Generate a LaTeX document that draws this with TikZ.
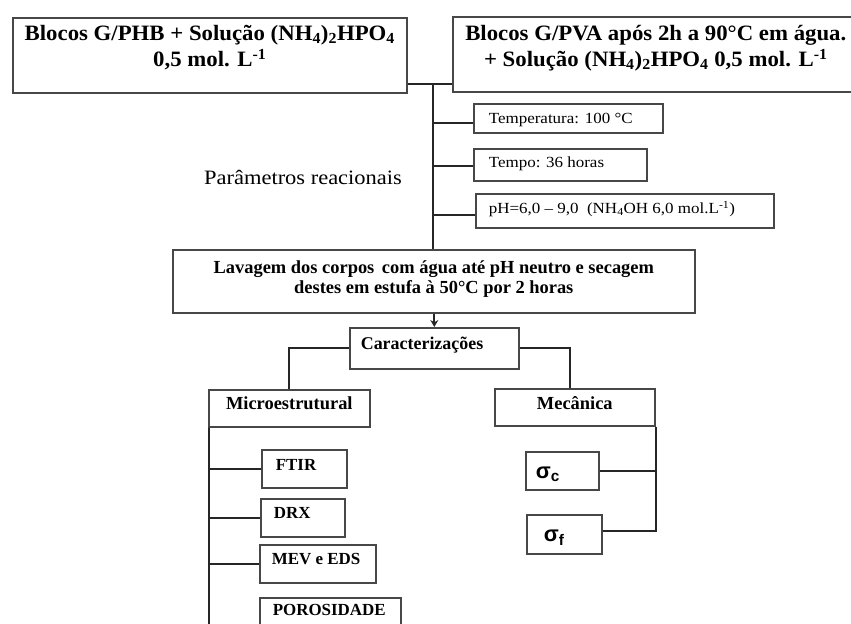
\documentclass[tikz,border=0pt]{standalone}
\usepackage{fontspec}
\setmainfont{Liberation Serif}
\newfontfamily\cambria[FakeStretch=1.1]{Liberation Serif}
\newfontfamily\wideserif[FakeStretch=1.04]{Liberation Serif}
\newfontfamily\sigfont{Liberation Sans}
\usetikzlibrary{arrows.meta}
\newcommand\cbox[4]{\parbox[c][#2bp][t]{#1bp}{\centering\vspace*{#3bp}\strut#4\par}}
\newcommand\lbox[5]{\parbox[c][#2bp][t]{#1bp}{\raggedright\vspace*{#3bp}\hspace*{#4bp}\strut#5\par}}
\tikzset{
  box/.style={draw=black!72, line width=1.6bp, inner sep=0pt, anchor=north west, fill=white},
  conn/.style={draw=black!85, line width=1.8bp},
  bigbold/.style={font=\fontsize{22}{25}\selectfont\wideserif\bfseries},
  midbold/.style={font=\fontsize{18.5}{18.5}\selectfont\bfseries},
  headbold/.style={font=\fontsize{18.5}{20}\selectfont\bfseries},
  smallbold/.style={font=\fontsize{17}{20}\selectfont\bfseries},
  param/.style={font=\fontsize{15.5}{18}\selectfont\cambria},
  sigma/.style={font=\fontsize{22}{24}\selectfont\sigfont\bfseries},
}
\begin{document}
\begin{tikzpicture}[x=1bp,y=-1bp]
\useasboundingbox[fill=white] (0,0) rectangle (851,624);
% top boxes
\node[box,bigbold] (b1) at (12,17) {\cbox{394}{75}{5.5}{Blocos G/PHB + Solução (NH\textsubscript{4})\textsubscript{2}HPO\textsubscript{4}\\0,5 mol. L\textsuperscript{-1}}};
\node[box,bigbold] (b2) at (452,16) {\cbox{406}{75}{6.5}{Blocos G/PVA após 2h a 90°C em água.\\+ Solução (NH\textsubscript{4})\textsubscript{2}HPO\textsubscript{4} 0,5 mol. L\textsuperscript{-1}}};
\coordinate (j) at (433,84);
% parameter boxes
\node[box,param] (temp) at (473,103) {\lbox{189}{29}{7.4}{15}{Temperatura: 100 °C}};
\node[box,param] (tempo) at (473,148) {\lbox{173}{32}{6.4}{15}{Tempo: 36 horas}};
\node[box,param] (ph) at (475,193) {\lbox{298}{34}{7.4}{13}{pH=6,0 – 9,0\ \ (NH\textsubscript{4}OH 6,0 mol.L\textsuperscript{-1})}};
\node[font=\fontsize{20.5}{22}\selectfont\cambria] (par) at (303,177) {Parâmetros reacionais};
% washing box
\node[box,midbold] (lav) at (172,249) {\cbox{522}{63}{11}{Lavagem dos corpos\hspace{3bp} com água até pH neutro e secagem\\destes em estufa à 50°C por 2 horas}};
\node[box,font=\fontsize{18}{20}\selectfont\bfseries] (car) at (349,327) {\lbox{169}{41}{8}{11}{Caracterizações}};
\node[box,headbold] (mic) at (208,389) {\cbox{161}{37}{6}{Microestrutural}};
\node[box,headbold] (mec) at (494,388) {\cbox{160}{37}{7}{Mecânica}};
% microstructural items
\node[box,smallbold] (ftir) at (261,449) {\lbox{85}{38}{7}{14}{FTIR}};
\node[box,smallbold] (drx) at (260,498) {\lbox{84}{38}{6}{13}{DRX}};
\node[box,smallbold] (mev) at (259,544) {\lbox{116}{38}{6}{12}{MEV e EDS}};
\node[box,smallbold] (por) at (259,597) {\lbox{141}{43}{4}{13}{POROSIDADE}};
% mechanical items
\node[box,sigma] (sc) at (525,451) {\lbox{73}{38}{10}{10}{σ\textsubscript{c}}};
\node[box,sigma] (sf) at (526,514) {\lbox{75}{39}{10}{17}{σ\textsubscript{f}}};
\coordinate (mbot) at (209,640);
% connectors
\draw[conn] (j -| b1.east) -- (j -| b2.west);
\draw[conn] (j) -- (j |- lav.north);
\draw[conn] ([yshift=-4.5]temp.west) -- ([yshift=-4.5]temp.west -| j);
\draw[conn] ([yshift=-1]tempo.west) -- ([yshift=-1]tempo.west -| j);
\draw[conn] ([yshift=-4]ph.west) -- ([yshift=-4]ph.west -| j);
\draw[conn,-{Stealth[length=7bp,width=8bp]}] (lav.south -| car.north) -- (car.north);
\draw[conn] (car.west) -| (mic.north);
\draw[conn] (car.east) -| ([xshift=-5]mec.north);
\draw[conn] ([xshift=1]mic.south west) -- (mbot);
\draw[conn] (ftir.west) -- (ftir.west -| mbot);
\draw[conn] (drx.west) -- (drx.west -| mbot);
\draw[conn] (mev.west) -- (mev.west -| mbot);
\draw[conn] (mec.south east) |- ([yshift=3.5]sf.east);
\draw[conn] (sc.east) -- (sc.east -| mec.south east);
\end{tikzpicture}
\end{document}
